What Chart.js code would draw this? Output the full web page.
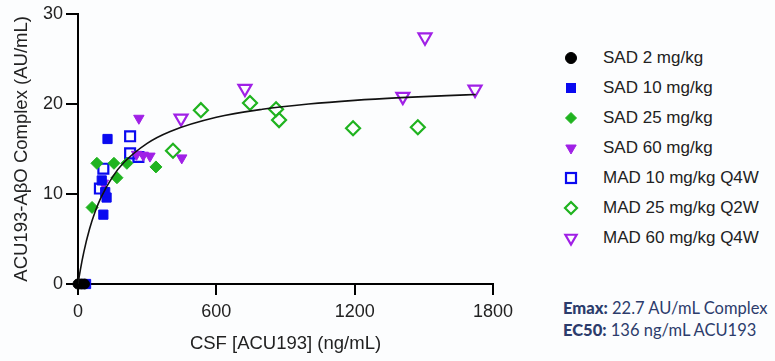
<!DOCTYPE html>
<html>
<head>
<meta charset="utf-8">
<script src="https://cdn.jsdelivr.net/npm/chart.js@4/dist/chart.umd.min.js"></script>
<style>
    body { margin: 0; background: #fcfdfe; }
    #wrap { position: relative; width: 775px; height: 361px; font-family: "Liberation Sans", Arial, sans-serif; }
    #plot { position: absolute; left: 0; top: 0; width: 540px; height: 361px; }
    #legend { position: absolute; left: 0; top: 0; }
    .legend-row { position: absolute; left: 561px; height: 30px; display: flex; align-items: center; white-space: nowrap; font-size: 17px; color: #222; }
    .legend-row svg { width: 20px; height: 20px; margin-right: 22px; }
    #note { position: absolute; left: 563px; top: 297px; font-family: Lato, "Open Sans", sans-serif; font-size: 16.5px; line-height: 22px; color: #2c3c6c; white-space: nowrap; }
    #note b { font-weight: 900; }
</style>
</head>
<body>
<div id="wrap">
    <div id="plot"><canvas id="pkpdChart"></canvas></div>
    <div id="legend"></div>
    <div id="note">
        <div><b>Emax:</b> 22.7 AU/mL Complex</div>
        <div><b>EC50:</b> 136 ng/mL ACU193</div>
    </div>
</div>
<script>
// CSF concentration (ng/mL) vs ACU193-AβO complex (AU/mL)
const sad2X = [0, 14, 28];
const sad2Y = [0, 0, 0];
const sad10X = [35, 110, 124, 103, 128, 118];
const sad10Y = [0, 7.7, 9.6, 11.5, 16.1, 10.2];
const sad25X = [61, 82, 156, 169, 212, 338];
const sad25Y = [8.5, 13.4, 13.4, 11.8, 13.4, 13.0];
const sad60X = [110, 254, 283, 312, 450, 264];
const sad60Y = [11.2, 14.4, 14.3, 14.2, 14.0, 18.4];
const mad10X = [95, 110, 226, 226, 262];
const mad10Y = [10.6, 12.8, 16.4, 14.5, 14.1];
const mad25X = [412, 533, 746, 859, 872, 1193, 1474];
const mad25Y = [14.8, 19.3, 20.1, 19.4, 18.2, 17.3, 17.4];
const mad60X = [447, 724, 1409, 1505, 1722];
const mad60Y = [18.4, 21.7, 20.8, 27.4, 21.6];

// Emax fit line (Emax 22.7, EC50 136)
const fitX = [0, 10, 25, 50, 75, 100, 150, 200, 300, 400, 600, 800, 1000, 1200, 1400, 1600, 1725];
const fitY = [0, 1.55, 3.52, 6.10, 8.07, 9.62, 11.90, 13.51, 15.62, 16.94, 18.51, 19.40, 19.98, 20.39, 20.69, 20.92, 21.04];

const xTicks = [0, 600, 1200, 1800];
const yTicks = [0, 10, 20, 30];

const BLUE = '#0a0af0';
const GREEN = '#1fb31f';
const PURPLE = '#a020e6';

function toPoints(xs, ys) {
    return xs.map((x, i) => ({ x: x, y: ys[i] }));
}

const series = [
    { label: 'SAD 2 mg/kg', x: sad2X, y: sad2Y, color: '#000', style: 'circle', filled: true, radius: 5 },
    { label: 'SAD 10 mg/kg', x: sad10X, y: sad10Y, color: BLUE, style: 'rect', filled: true, radius: 6.5 },
    { label: 'SAD 25 mg/kg', x: sad25X, y: sad25Y, color: GREEN, style: 'rectRot', filled: true, radius: 6 },
    { label: 'SAD 60 mg/kg', x: sad60X, y: sad60Y, color: PURPLE, style: 'triangle', filled: true, radius: 6 },
    { label: 'MAD 10 mg/kg Q4W', x: mad10X, y: mad10Y, color: BLUE, style: 'rect', filled: false, radius: 7 },
    { label: 'MAD 25 mg/kg Q2W', x: mad25X, y: mad25Y, color: GREEN, style: 'rectRot', filled: false, radius: 7 },
    { label: 'MAD 60 mg/kg Q4W', x: mad60X, y: mad60Y, color: PURPLE, style: 'triangle', filled: false, radius: 7.5 }
];

const datasets = series.map(s => ({
    type: 'scatter',
    label: s.label,
    data: toPoints(s.x, s.y),
    pointStyle: s.style,
    rotation: s.style === 'triangle' ? 180 : 0,
    pointRadius: s.radius,
    pointHoverRadius: s.radius,
    pointBackgroundColor: s.filled ? s.color : 'transparent',
    pointBorderColor: s.color,
    pointBorderWidth: s.filled ? 1 : 2.2,
    clip: false
}));

datasets.push({
    type: 'line',
    label: 'Emax fit',
    data: toPoints(fitX, fitY),
    borderColor: '#111',
    borderWidth: 1.6,
    pointRadius: 0,
    cubicInterpolationMode: 'monotone',
    fill: false,
    order: -1
});

const tickFont = { family: '"Liberation Sans", Arial, sans-serif', size: 18 };
const titleFont = { family: '"Liberation Sans", Arial, sans-serif', size: 18.5 };

const ctx = document.getElementById('pkpdChart').getContext('2d');
const chart = new Chart(ctx, {
    type: 'scatter',
    data: { datasets: datasets },
    options: {
        responsive: true,
        maintainAspectRatio: false,
        animation: false,
        layout: {
            padding: { left: 0, right: 47, top: 12, bottom: 0 }
        },
        plugins: {
            legend: { display: false },
            tooltip: { enabled: false }
        },
        scales: {
            x: {
                type: 'linear',
                min: 0,
                max: 1800,
                afterBuildTicks: scale => { scale.ticks = xTicks.map(v => ({ value: v })); },
                border: { display: true, color: '#000', width: 2 },
                grid: { drawOnChartArea: false, color: '#000', lineWidth: 2, tickLength: 11 },
                ticks: { color: '#222', font: tickFont, padding: 6, maxRotation: 0, callback: v => String(v) },
                title: {
                    display: true,
                    text: 'CSF [ACU193] (ng/mL)',
                    color: '#222',
                    font: titleFont,
                    padding: { top: 0, bottom: 6 }
                },
                afterFit: scale => { scale.height = 361 - 284; }
            },
            y: {
                type: 'linear',
                min: 0,
                max: 30,
                afterBuildTicks: scale => { scale.ticks = yTicks.map(v => ({ value: v })); },
                border: { display: true, color: '#000', width: 2 },
                grid: { drawOnChartArea: false, color: '#000', lineWidth: 2, tickLength: 12 },
                ticks: { color: '#222', font: tickFont, padding: 3, callback: v => String(v) },
                title: {
                    display: true,
                    text: 'ACU193-AβO Complex (AU/mL)',
                    color: '#222',
                    font: titleFont,
                    padding: { top: 11, bottom: 0 }
                },
                afterFit: scale => { scale.width = 78; }
            }
        }
    }
});

// HTML legend built from the same series list
function markerSvg(s) {
    const fill = s.filled ? s.color : 'none';
    const sw = s.filled ? 1 : 2.2;
    let shape = '';
    if (s.style === 'circle') {
        shape = `<circle cx="10" cy="10" r="5.5" fill="${fill}" stroke="${s.color}" stroke-width="${sw}"/>`;
    } else if (s.style === 'rect') {
        const h = s.filled ? 4.5 : 5;
        shape = `<rect x="${10 - h}" y="${10 - h}" width="${2 * h}" height="${2 * h}" fill="${fill}" stroke="${s.color}" stroke-width="${sw}"/>`;
    } else if (s.style === 'rectRot') {
        const r = s.filled ? 5.5 : 6;
        shape = `<polygon points="10,${10 - r} ${10 + r},10 10,${10 + r} ${10 - r},10" fill="${fill}" stroke="${s.color}" stroke-width="${sw}"/>`;
    } else {
        const r = s.filled ? 6 : 6.5;
        const hw = r * 0.866;
        shape = `<polygon points="${10 - hw},${10 - r / 2} ${10 + hw},${10 - r / 2} 10,${10 + r}" fill="${fill}" stroke="${s.color}" stroke-width="${sw}"/>`;
    }
    return `<svg viewBox="0 0 20 20">${shape}</svg>`;
}

const legendEl = document.getElementById('legend');
series.forEach((s, i) => {
    const row = document.createElement('div');
    row.className = 'legend-row';
    row.style.top = (58 + i * 30 - 15) + 'px';
    row.innerHTML = markerSvg(s) + '<span>' + s.label + '</span>';
    legendEl.appendChild(row);
});
</script>
</body>
</html>
